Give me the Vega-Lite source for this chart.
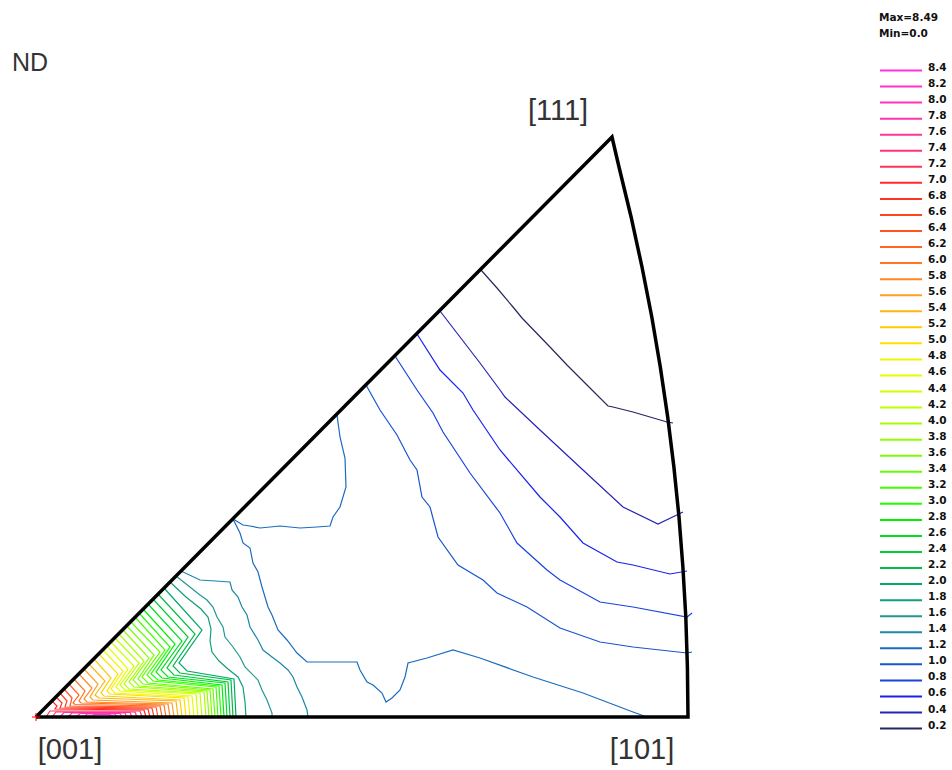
{
  "$schema": "https://vega.github.io/schema/vega-lite/v6.json",
  "width": 952,
  "height": 770,
  "autosize": {"type": "none"},
  "padding": 0,
  "background": "white",
  "config": {"view": {"stroke": null}},
  "datasets": {
    "contours": [
      {"lv": "0.2", "id": "0.2", "x": [445,461,477,486,514,531,551,572,577,597,631,637], "y": [447,429,410,399,370,352,332,311,310,305,295,294]},
      {"lv": "0.4", "id": "0.4", "x": [404,424,444,464,469,504,547,587,622,647], "y": [406,380,354,327,320,287,247,210,193,205]},
      {"lv": "0.6", "id": "0.6", "x": [381,404,427,437,464,504,524,547,581,597,634,651], "y": [383,347,324,307,267,220,200,174,155,152,143,146]},
      {"lv": "0.8", "id": "0.8", "x": [359,381,397,407,434,464,481,511,524,564,597,651,656], "y": [361,327,304,285,244,204,174,147,137,115,110,100,104]},
      {"lv": "1.0", "id": "1.0", "x": [330,344,361,374,381,386,394,402,422,447,461,491,524,564,597,651,656], "y": [332,307,282,257,247,220,210,180,152,137,124,110,89,75,70,64,65]},
      {"lv": "1.2", "id": "1.2a", "x": [301,304,309,310,304,297,294,281,264,244,224,214,207,197], "y": [302,280,259,230,210,200,191,190,189,191,189,191,192,198]},
      {"lv": "1.2", "id": "1.2b", "x": [197,204,207,214,217,222,226,232,236,242,251,261,271,321,324,331,337,346,350,356,364,369,372,391,417,444,497,547,597,611], "y": [198,184,174,169,154,145,130,110,102,87,77,64,55,55,47,35,32,24,15,19,27,40,54,59,67,59,40,24,5,0]},
      {"lv": "1.4", "id": "1.4", "x": [145,164,194,196,202,206,211,214,222,227,236,244,252,257,261,266,271,272], "y": [146,137,135,127,120,110,102,90,77,67,60,54,47,40,30,20,7,0]},
      {"lv": "1.6", "id": "1.6", "x": [140,164,171,177,181,187,189,197,204,209,222,226,231,236,236], "y": [141,122,117,110,100,90,80,70,60,50,37,27,17,4,0]},
      {"lv": "1.8", "id": "1.8", "x": [134,150,165,172,175,174,176,183,192,202,207,209,210], "y": [135,120,108,100,88,76,65,56,48,40,30,15,0]},
      {"lv": "2.0", "id": "2.0", "x": [128,166,143,151,198,200], "y": [129,87,54,46,38,0]},
      {"lv": "2.2", "id": "2.2", "x": [122,159,137,144,195,197], "y": [123,83,51,44,37,0]},
      {"lv": "2.4", "id": "2.4", "x": [117,152,131,138,192,194], "y": [118,80,49,42,35,0]},
      {"lv": "2.6", "id": "2.6", "x": [112,146,125,132,189,191], "y": [113,76,47,40,34,0]},
      {"lv": "2.8", "id": "2.8", "x": [107,139,120,126,186,188], "y": [108,73,45,39,32,0]},
      {"lv": "3.0", "id": "3.0", "x": [103,134,115,122,183,185], "y": [104,70,43,37,31,0]},
      {"lv": "3.2", "id": "3.2", "x": [99,129,111,117,180,182], "y": [100,67,42,36,30,0]},
      {"lv": "3.4", "id": "3.4", "x": [95,124,106,112,177,179], "y": [95,65,40,34,28,0]},
      {"lv": "3.6", "id": "3.6", "x": [91,118,102,107,174,176], "y": [91,62,38,33,27,0]},
      {"lv": "3.8", "id": "3.8", "x": [87,113,97,103,171,173], "y": [87,59,37,31,26,0]},
      {"lv": "4.0", "id": "4.0", "x": [83,108,93,98,168,170], "y": [83,56,35,30,25,0]},
      {"lv": "4.2", "id": "4.2", "x": [79,103,88,93,164,166], "y": [79,54,33,28,24,0]},
      {"lv": "4.4", "id": "4.4", "x": [75,98,84,89,160,162], "y": [75,51,32,27,23,0]},
      {"lv": "4.6", "id": "4.6", "x": [71,92,80,84,156,158], "y": [71,48,30,26,21,0]},
      {"lv": "4.8", "id": "4.8", "x": [67,87,75,79,152,154], "y": [67,46,28,24,20,0]},
      {"lv": "5.0", "id": "5.0", "x": [63,82,71,74,148,150], "y": [63,43,26,23,19,0]},
      {"lv": "5.2", "id": "5.2", "x": [58,75,65,68,144,146], "y": [58,39,24,21,17,0]},
      {"lv": "5.4", "id": "5.4", "x": [53,69,59,63,140,142], "y": [53,36,22,19,16,0]},
      {"lv": "5.6", "id": "5.6", "x": [48,62,54,57,136,138], "y": [48,33,20,17,14,0]},
      {"lv": "5.8", "id": "5.8", "x": [43,56,48,51,132,134], "y": [43,29,18,15,13,0]},
      {"lv": "6.0", "id": "6.0", "x": [38,49,43,45,128,130], "y": [38,26,16,14,12,0]},
      {"lv": "6.2", "id": "6.2", "x": [33,43,37,39,124,126], "y": [33,22,14,12.5,11,0]},
      {"lv": "6.4", "id": "6.4", "x": [28,36,34,120,122], "y": [28,19,11,10,0]},
      {"lv": "6.6", "id": "6.6", "x": [24,31,29,116,118], "y": [24,16,10,9,0]},
      {"lv": "6.8", "id": "6.8", "x": [20,26,24,112,114], "y": [20,14,9,8,0]},
      {"lv": "7.0", "id": "7.0", "x": [16,21,19,108,110], "y": [16,11,8,7,0]},
      {"lv": "7.2", "id": "7.2", "x": [10,14,104,106], "y": [0,6,6,0]},
      {"lv": "7.4", "id": "7.4", "x": [16,20,99,101], "y": [0,5,5,0]},
      {"lv": "7.6", "id": "7.6", "x": [24,28,94,96], "y": [0,4.5,4.5,0]},
      {"lv": "7.8", "id": "7.8", "x": [32,36,89,91], "y": [0,4,4,0]},
      {"lv": "8.0", "id": "8.0", "x": [40,44,84,86], "y": [0,3.5,3.5,0]},
      {"lv": "8.2", "id": "8.2", "x": [48,51,79,81], "y": [0,3,3,0]},
      {"lv": "8.4", "id": "8.4", "x": [56,58,74,76], "y": [0,2.5,2.5,0]}
    ],
    "frame": [
      {"id": "triangle", "x": [0,652,651.4,649.8,646.9,643,637.9,631.7,624.3,615.8,606,595.1,583,576,0], "y": [0,0,50,100,150,200,250,300,350,400,450,500,550,580,0]}
    ],
    "poles": [
      {"t": "[001]", "px": 0, "py": 0, "x": 34, "y": -42},
      {"t": "[101]", "px": 652, "py": 0, "x": 606, "y": -42},
      {"t": "[111]", "px": 576, "py": 580, "x": 522, "y": 597}
    ],
    "axisName": [
      {"t": "ND", "x": -6, "y": 646}
    ]
  },
  "layer": [
    {
      "data": {"name": "contours"},
      "transform": [{"flatten": ["x", "y"]}],
      "mark": {"type": "line", "strokeWidth": 1.2, "clip": false},
      "encoding": {
        "x": {"field": "x", "type": "quantitative", "scale": {"domain": [-36, 916], "nice": false, "zero": false}, "axis": null},
        "y": {"field": "y", "type": "quantitative", "scale": {"domain": [-53, 717], "nice": false, "zero": false}, "axis": null},
        "detail": {"field": "id"},
        "order": {"value": null},
        "stroke": {
          "field": "lv",
          "type": "nominal",
          "scale": {
            "domain": ["8.4","8.2","8.0","7.8","7.6","7.4","7.2","7.0","6.8","6.6","6.4","6.2","6.0","5.8","5.6","5.4","5.2","5.0","4.8","4.6","4.4","4.2","4.0","3.8","3.6","3.4","3.2","3.0","2.8","2.6","2.4","2.2","2.0","1.8","1.6","1.4","1.2","1.0","0.8","0.6","0.4","0.2"],
            "range": ["#ff33dd","#ff33cc","#ff33bb","#ff33aa","#ff3399","#ff3377","#ff3355","#ff2a2a","#ff3322","#ff4422","#ff5522","#ff6622","#ff7722","#ff8822","#ffa022","#ffb511","#ffcc00","#ffe000","#f4f400","#e4ff00","#d0ff00","#bbff00","#a6ff00","#90ff00","#7aff00","#62ff00","#44ff00","#22ff00","#00f000","#00e020","#00cc33","#00bb44","#00aa66","#11a07a","#229990","#1c88aa","#1a6cc0","#1a55d0","#1a44dd","#1a22ee","#2424b4","#262660"]
          },
          "legend": {
            "orient": "none",
            "legendX": 879,
            "legendY": 13,
            "padding": 0,
            "title": ["Max=8.49", "Min=0.0"],
            "titleFont": "DejaVu Sans",
            "titleFontSize": 10.5,
            "titleFontWeight": "bold",
            "titleColor": "#111",
            "titleLineHeight": 16,
            "titleBaseline": "top",
            "titleAnchor": "start",
            "titlePadding": 23,
            "symbolType": "stroke",
            "symbolSize": 1764,
            "symbolStrokeWidth": 2,
            "symbolLimit": 50,
            "clipHeight": 16,
            "labelFont": "DejaVu Sans",
            "labelFontSize": 10.5,
            "labelFontWeight": "bold",
            "labelColor": "#111",
            "labelBaseline": "alphabetic",
            "labelOffset": 5,
            "rowPadding": 0.05
          }
        }
      }
    },
    {
      "data": {"name": "frame"},
      "transform": [{"flatten": ["x", "y"]}],
      "mark": {"type": "line", "stroke": "#000", "strokeWidth": 3.5, "strokeJoin": "miter", "clip": false},
      "encoding": {
        "x": {"field": "x", "type": "quantitative", "scale": {"domain": [-36, 916], "nice": false, "zero": false}, "axis": null},
        "y": {"field": "y", "type": "quantitative", "scale": {"domain": [-53, 717], "nice": false, "zero": false}, "axis": null},
        "detail": {"field": "id"},
        "order": {"value": null}
      }
    },
    {
      "data": {"name": "poles"},
      "transform": [{"filter": "datum.t === '[001]'"}],
      "mark": {"type": "point", "shape": "M-1,0L1,0M0,-1L0,1", "size": 64, "filled": false, "stroke": "#ff0000", "strokeWidth": 1, "opacity": 1},
      "encoding": {
        "x": {"field": "px", "type": "quantitative"},
        "y": {"field": "py", "type": "quantitative"}
      }
    },
    {
      "data": {"name": "poles"},
      "mark": {"type": "text", "font": "Liberation Sans", "fontSize": 29, "color": "#333", "align": "center", "baseline": "alphabetic"},
      "encoding": {
        "x": {"field": "x", "type": "quantitative"},
        "y": {"field": "y", "type": "quantitative"},
        "text": {"field": "t"}
      }
    },
    {
      "data": {"name": "axisName"},
      "mark": {"type": "text", "font": "Liberation Sans", "fontSize": 25, "color": "#333", "align": "center", "baseline": "alphabetic"},
      "encoding": {
        "x": {"field": "x", "type": "quantitative"},
        "y": {"field": "y", "type": "quantitative"},
        "text": {"field": "t"}
      }
    }
  ]
}
